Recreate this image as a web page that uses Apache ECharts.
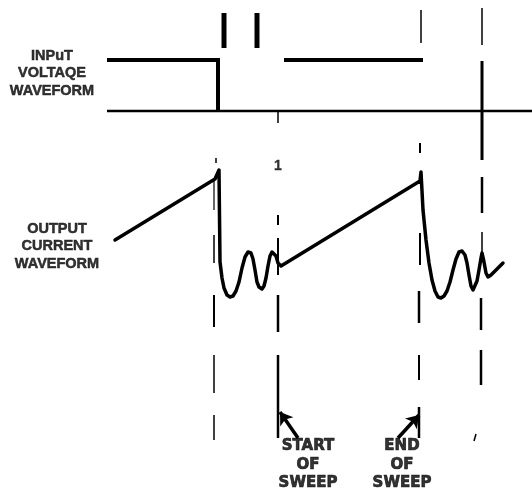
<!DOCTYPE html>
<html><head><meta charset="utf-8">
<script src="https://cdn.jsdelivr.net/npm/echarts@6/dist/echarts.min.js"></script>
<style>html,body{margin:0;padding:0;background:#fff}#c{width:532px;height:493px}</style>
</head><body><div id="c"></div>
<script>
// Diagram units: x = time position, y = level (downward) on a 532 x 493 frame
var inputLevelA = [[107,60],[218,60],[218,111]];
var inputLevelB = [[284,60],[423,60]];
var baseline = [[107,111],[532,111]];
var markerBars = [[224,13,48],[257,13,48]];
var waveX = [115,215,219,220,222,224,227,230,233,236,239,242,245,248,251,253,255,257,259,262,264,266,268,270,272,274,276,278,281,
             420,421,423,426,429,432,435,438,441,444,447,450,453,456,459,462,465,467,469,471,473,475,477,479,481,482,484,486,488,491,495,499,503];
var waveY = [240,179,170,262,278,288,295,297,296,291,282,268,257,252,253,259,270,282,287,289,286,278,266,256,252,252,256,263,266,
             181,172,210,240,263,280,291,297,298,296,291,282,270,259,252,251,255,263,275,286,290,288,281,270,258,253,262,273,277,275,271,267,263];
// dashed reference segments: [x, yFrom, yTo, width]
var dashSegs = [
  [216,158,163,1.5],[214,180,210,1.2],[214,235,263,1.5],[214,295,327,2],[214,355,393,1.5],[214,415,440,1.5],
  [278,112,123,1.5],[278,215,225,2],[278,238,275,2],[278,295,332,2.5],[278,355,438,2.5],
  [421,10,43,1.5],[420,143,153,2],[420,233,265,2],[419,291,323,2.5],[419,355,380,2],[419,407,438,2.5],
  [482,8,45,1.5],[482,61,160,3],[482,177,213,2.5],[482,232,258,1.5],[481,298,330,2.5],[481,350,385,2.5]
];
var slashMark = [[474,441],[476,434]];
var arrows = [[[298,438],[280,412]],[[398,438],[419,415]]];
var labels = [
  {x:52, y:73, text:'INPuT\nVOLTAQE\nWAVEFORM', kind:'side'},
  {x:57, y:246, text:'OUTPUT\nCURRENT\nWAVEFORM', kind:'side'},
  {x:308, y:465, text:'START\nOF\nSWEEP', kind:'sweep'},
  {x:402, y:465, text:'END\nOF\nSWEEP', kind:'sweep'},
  {x:278, y:166, text:'1', kind:'small'}
];

var wave = waveX.map(function(x,i){return [x, waveY[i]];});
function segRender(params, api){
  var p1 = api.coord([api.value(0), api.value(1)]);
  var p2 = api.coord([api.value(0), api.value(2)]);
  return {type:'line', shape:{x1:p1[0],y1:p1[1],x2:p2[0],y2:p2[1]}, style:{stroke:'#000', lineWidth:api.value(3)}};
}
var styles = {
  side:{fontFamily:'Liberation Sans', fontSize:14.5, lineHeight:17.5, border:0.5},
  sweep:{fontFamily:'DejaVu Sans', fontSize:15, lineHeight:18.5, border:0.7},
  small:{fontFamily:'Liberation Sans', fontSize:14, lineHeight:15, border:0.3}
};
var labelSeries = labels.map(function(l){
  var s = styles[l.kind];
  return {type:'scatter', symbolSize:0, silent:true, data:[[l.x,l.y]],
    label:{show:true, position:'inside', formatter:l.text, color:'#000', align:'center', verticalAlign:'middle',
      fontFamily:s.fontFamily, fontWeight:'bold', fontSize:s.fontSize, lineHeight:s.lineHeight,
      textBorderColor:'#000', textBorderWidth:s.border}};
});
var chart = echarts.init(document.getElementById('c'), null, {renderer:'canvas'});
chart.setOption({
  animation:false,
  backgroundColor:'#fff',
  grid:{left:0,right:0,top:0,bottom:0},
  xAxis:{type:'value', min:0, max:532, show:false},
  yAxis:{type:'value', min:0, max:493, inverse:true, show:false},
  series:[
    {type:'line', data:baseline, symbol:'none', lineStyle:{color:'#000', width:2.5}},
    {type:'line', data:inputLevelA, symbol:'none', lineStyle:{color:'#000', width:4, join:'miter'}},
    {type:'line', data:inputLevelB, symbol:'none', lineStyle:{color:'#000', width:4}},
    {type:'custom', renderItem:function(p,api){var a=api.coord([api.value(0),api.value(1)]),b=api.coord([api.value(0),api.value(2)]);return {type:'line',shape:{x1:a[0],y1:a[1],x2:b[0],y2:b[1]},style:{stroke:'#000',lineWidth:5}};}, data:markerBars},
    {type:'line', data:wave, symbol:'none', smooth:false, lineStyle:{color:'#000', width:3.5, join:'round', cap:'round'}},
    {type:'custom', renderItem:segRender, data:dashSegs},
    {type:'line', data:slashMark, symbol:'none', lineStyle:{color:'#000', width:1.5}},
    {type:'lines', coordinateSystem:'cartesian2d', symbol:['none','arrow'], symbolSize:[0,12],
      lineStyle:{color:'#000', width:3.5, opacity:1}, data:arrows.map(function(a){return {coords:a};})}
  ].concat(labelSeries)
});
</script></body></html>
